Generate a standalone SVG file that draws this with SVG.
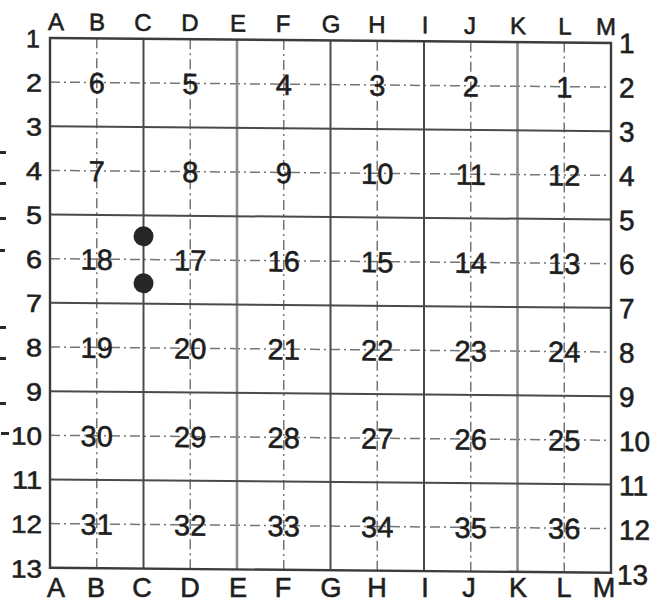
<svg xmlns="http://www.w3.org/2000/svg" width="665" height="603" viewBox="0 0 665 603">
<style>
.solid{stroke:#4a4a4a;stroke-width:2;fill:none}
.light{stroke:#8c8c8c;stroke-width:2.6;fill:none}
.border{stroke:#3c3c3c;stroke-width:2.4;fill:none}
.dd{stroke:#767676;stroke-width:1.5;stroke-dasharray:10 4 2 4;fill:none}
text{font-family:"Liberation Sans",Arial,sans-serif;fill:#1e1e1e;stroke:#1e1e1e;stroke-width:0.6}
.num{font-size:29px;text-anchor:middle}
.rl{font-size:25px;text-anchor:end}
.rr{font-size:28px;text-anchor:start}
.ct{font-size:24px;text-anchor:middle}
.cb{font-size:27px;text-anchor:middle}
.dot{fill:#262626}
.tick{fill:#2a2a2a}
</style>
<rect width="665" height="603" fill="#ffffff"/>
<g id="scan-ticks">
<rect class="tick" x="0" y="151" width="6" height="3"/>
<rect class="tick" x="0" y="182" width="6" height="3"/>
<rect class="tick" x="0" y="217" width="6" height="3"/>
<rect class="tick" x="0" y="249" width="5" height="3"/>
<rect class="tick" x="0" y="326" width="6" height="3"/>
<rect class="tick" x="0" y="357" width="6" height="3"/>
<rect class="tick" x="0" y="402" width="6" height="3"/>
<rect class="tick" x="1" y="432" width="8" height="3"/>
</g>
<g id="col-labels-bottom">
<text class="cb" x="56" y="597">A</text>
<text class="cb" x="96" y="597">B</text>
<text class="cb" x="142" y="597">C</text>
<text class="cb" x="190" y="597">D</text>
<text class="cb" x="238" y="597">E</text>
<text class="cb" x="283" y="597">F</text>
<text class="cb" x="331" y="597">G</text>
<text class="cb" x="377" y="597">H</text>
<text class="cb" x="425" y="597">I</text>
<text class="cb" x="469" y="597">J</text>
<text class="cb" x="518" y="597">K</text>
<text class="cb" x="564" y="597">L</text>
<text class="cb" x="604" y="597">M</text>
</g>
<g transform="matrix(1 0.0089 0 1 0 0)">
<g id="connectors">
<g id="dashdot-lines">
<line class="dd" x1="96.75" y1="37.5" x2="96.75" y2="567.3"/>
<line class="dd" x1="190.25" y1="37.5" x2="190.25" y2="567.3"/>
<line class="dd" x1="283.75" y1="37.5" x2="283.75" y2="567.3"/>
<line class="dd" x1="377.25" y1="37.5" x2="377.25" y2="567.3"/>
<line class="dd" x1="470.75" y1="37.5" x2="470.75" y2="567.3"/>
<line class="dd" x1="564.25" y1="37.5" x2="564.25" y2="567.3"/>
<line class="dd" x1="50" y1="81.65" x2="611" y2="81.65"/>
<line class="dd" x1="50" y1="169.95" x2="611" y2="169.95"/>
<line class="dd" x1="50" y1="258.25" x2="611" y2="258.25"/>
<line class="dd" x1="50" y1="346.55" x2="611" y2="346.55"/>
<line class="dd" x1="50" y1="434.85" x2="611" y2="434.85"/>
<line class="dd" x1="50" y1="523.15" x2="611" y2="523.15"/>
</g>
<g id="solid-lines">
<line class="solid" x1="143.5" y1="37.5" x2="143.5" y2="567.3"/>
<line class="light" x1="237" y1="37.5" x2="237" y2="567.3"/>
<line class="solid" x1="330.5" y1="37.5" x2="330.5" y2="567.3"/>
<line class="solid" x1="424" y1="37.5" x2="424" y2="567.3"/>
<line class="light" x1="517.5" y1="37.5" x2="517.5" y2="567.3"/>
<line class="solid" x1="50" y1="125.8" x2="611" y2="125.8"/>
<line class="solid" x1="50" y1="214.1" x2="611" y2="214.1"/>
<line class="solid" x1="50" y1="302.4" x2="611" y2="302.4"/>
<line class="solid" x1="50" y1="390.7" x2="611" y2="390.7"/>
<line class="solid" x1="50" y1="479" x2="611" y2="479"/>
<rect class="border" x="50" y="37.5" width="561" height="529.8"/>
</g>
</g>
<g id="dots">
<circle id="dot-1" class="dot" cx="143.5" cy="235" r="10"/>
<circle id="dot-2" class="dot" cx="143.5" cy="282" r="10"/>
</g>
<g id="cells">
<g id="n1"><text class="num" x="564.25" y="92.2">1</text></g>
<g id="n2"><text class="num" x="470.75" y="92.2">2</text></g>
<g id="n3"><text class="num" x="377.25" y="92.2">3</text></g>
<g id="n4"><text class="num" x="283.75" y="92.2">4</text></g>
<g id="n5"><text class="num" x="190.25" y="92.2">5</text></g>
<g id="n6"><text class="num" x="96.75" y="92.2">6</text></g>
<g id="n7"><text class="num" x="96.75" y="180.5">7</text></g>
<g id="n8"><text class="num" x="190.25" y="180.5">8</text></g>
<g id="n9"><text class="num" x="283.75" y="180.5">9</text></g>
<g id="n10"><text class="num" x="377.25" y="180.5">10</text></g>
<g id="n11"><text class="num" x="470.75" y="180.5">11</text></g>
<g id="n12"><text class="num" x="564.25" y="180.5">12</text></g>
<g id="n13"><text class="num" x="564.25" y="268.8">13</text></g>
<g id="n14"><text class="num" x="470.75" y="268.8">14</text></g>
<g id="n15"><text class="num" x="377.25" y="268.8">15</text></g>
<g id="n16"><text class="num" x="283.75" y="268.8">16</text></g>
<g id="n17"><text class="num" x="190.25" y="268.8">17</text></g>
<g id="n18"><text class="num" x="96.75" y="268.8">18</text></g>
<g id="n19"><text class="num" x="96.75" y="357">19</text></g>
<g id="n20"><text class="num" x="190.25" y="357">20</text></g>
<g id="n21"><text class="num" x="283.75" y="357">21</text></g>
<g id="n22"><text class="num" x="377.25" y="357">22</text></g>
<g id="n23"><text class="num" x="470.75" y="357">23</text></g>
<g id="n24"><text class="num" x="564.25" y="357">24</text></g>
<g id="n25"><text class="num" x="564.25" y="445.4">25</text></g>
<g id="n26"><text class="num" x="470.75" y="445.4">26</text></g>
<g id="n27"><text class="num" x="377.25" y="445.4">27</text></g>
<g id="n28"><text class="num" x="283.75" y="445.4">28</text></g>
<g id="n29"><text class="num" x="190.25" y="445.4">29</text></g>
<g id="n30"><text class="num" x="96.75" y="445.4">30</text></g>
<g id="n31"><text class="num" x="96.75" y="533.7">31</text></g>
<g id="n32"><text class="num" x="190.25" y="533.7">32</text></g>
<g id="n33"><text class="num" x="283.75" y="533.7">33</text></g>
<g id="n34"><text class="num" x="377.25" y="533.7">34</text></g>
<g id="n35"><text class="num" x="470.75" y="533.7">35</text></g>
<g id="n36"><text class="num" x="564.25" y="533.7">36</text></g>
</g>
<g id="row-labels-left">
<text class="rl" x="40" y="47">1</text>
<text class="rl" x="42" y="91.2" textLength="16" lengthAdjust="spacingAndGlyphs">2</text>
<text class="rl" x="42" y="135.3" textLength="16" lengthAdjust="spacingAndGlyphs">3</text>
<text class="rl" x="42" y="179.5" textLength="16" lengthAdjust="spacingAndGlyphs">4</text>
<text class="rl" x="42" y="223.6" textLength="16" lengthAdjust="spacingAndGlyphs">5</text>
<text class="rl" x="42" y="267.8" textLength="16" lengthAdjust="spacingAndGlyphs">6</text>
<text class="rl" x="42" y="311.9" textLength="16" lengthAdjust="spacingAndGlyphs">7</text>
<text class="rl" x="42" y="356.1" textLength="16" lengthAdjust="spacingAndGlyphs">8</text>
<text class="rl" x="42" y="400.2" textLength="16" lengthAdjust="spacingAndGlyphs">9</text>
<text class="rl" x="42" y="444.4" textLength="31" lengthAdjust="spacingAndGlyphs">10</text>
<text class="rl" x="42" y="488.5" textLength="30" lengthAdjust="spacingAndGlyphs">11</text>
<text class="rl" x="42" y="532.7" textLength="31" lengthAdjust="spacingAndGlyphs">12</text>
<text class="rl" x="42" y="577.3" textLength="31" lengthAdjust="spacingAndGlyphs">13</text>
</g>
<g id="row-labels-right">
<text class="rr" x="619" y="47.5">1</text>
<text class="rr" x="619" y="91.9">2</text>
<text class="rr" x="619" y="136">3</text>
<text class="rr" x="619" y="180.2">4</text>
<text class="rr" x="619" y="224.4">5</text>
<text class="rr" x="619" y="268.6">6</text>
<text class="rr" x="619" y="312.8">7</text>
<text class="rr" x="619" y="357">8</text>
<text class="rr" x="619" y="401.2">9</text>
<text class="rr" x="619" y="445.6">10</text>
<text class="rr" x="619" y="489.8">11</text>
<text class="rr" x="619" y="534.2">12</text>
<text class="rr" x="617" y="579">13</text>
</g>
<g id="col-labels-top">
<text class="ct" x="56" y="29.5">A</text>
<text class="ct" x="97" y="29.5">B</text>
<text class="ct" x="143" y="29.5">C</text>
<text class="ct" x="190" y="29.5">D</text>
<text class="ct" x="238" y="29.5">E</text>
<text class="ct" x="283" y="29.5">F</text>
<text class="ct" x="331" y="29.5">G</text>
<text class="ct" x="377" y="29.5">H</text>
<text class="ct" x="425" y="29.5">I</text>
<text class="ct" x="470" y="29.5">J</text>
<text class="ct" x="518" y="29.5">K</text>
<text class="ct" x="565" y="29.5">L</text>
<text class="ct" x="606" y="29.5">M</text>
</g>
</g>
</svg>
